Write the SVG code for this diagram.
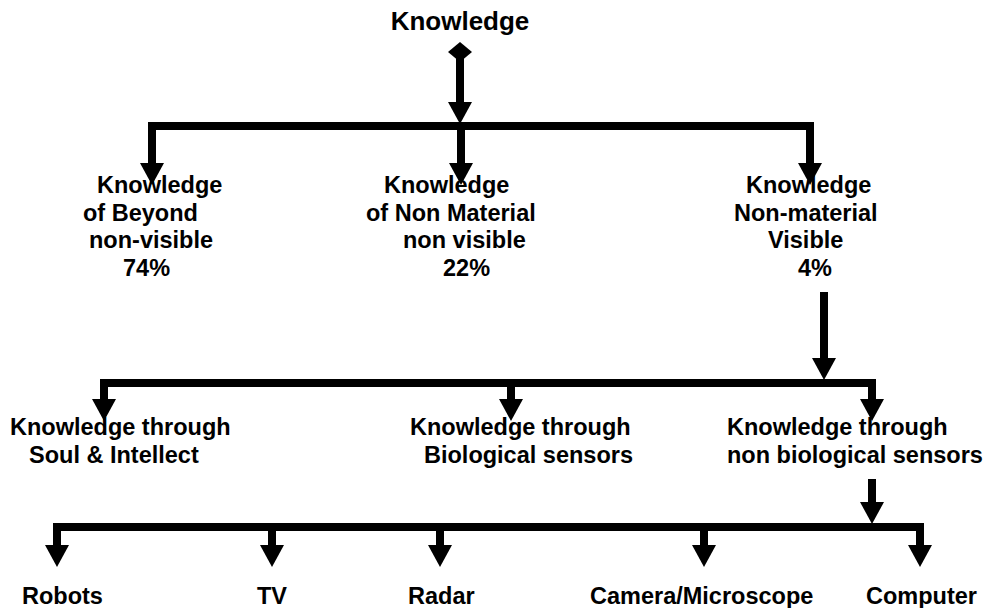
<svg xmlns="http://www.w3.org/2000/svg" width="984" height="608" viewBox="0 0 984 608">
<style>
text{font-family:"Liberation Sans",Arial,sans-serif;font-weight:bold;fill:#000;font-size:23.5px}
.top{font-size:26px}
.ln{stroke:#000;stroke-width:8;fill:none;stroke-linecap:butt}
.ar{stroke:#000;stroke-width:8;fill:none;marker-end:url(#ah)}
</style>
<defs>
<marker id="ah" markerUnits="userSpaceOnUse" markerWidth="22" markerHeight="24" viewBox="0 0 22 24" refX="0" refY="12" orient="auto">
<path d="M0,0 L22,12 L0,24 Z" fill="#000"/>
</marker>
</defs>
<rect width="984" height="608" fill="#fff"/>
<g id="connectors">
<polygon points="460,42 472,52 460,62 448,52" fill="#000"/>
<line class="ar" x1="460" y1="52" x2="460" y2="102"/>
<line class="ln" x1="148" y1="126" x2="814" y2="126"/>
<line class="ar" x1="152" y1="122" x2="152" y2="163"/>
<line class="ar" x1="461" y1="122" x2="461" y2="163"/>
<line class="ar" x1="810" y1="122" x2="810" y2="163"/>
<line class="ar" x1="824" y1="292" x2="824" y2="358"/>
<line class="ln" x1="100" y1="383" x2="876" y2="383"/>
<line class="ar" x1="104" y1="379" x2="104" y2="399"/>
<line class="ar" x1="511" y1="379" x2="511" y2="399"/>
<line class="ar" x1="872" y1="379" x2="872" y2="399"/>
<line class="ar" x1="872" y1="479" x2="872" y2="502"/>
<line class="ln" x1="53" y1="527" x2="924" y2="527"/>
<line class="ar" x1="57" y1="523" x2="57" y2="545"/>
<line class="ar" x1="272" y1="523" x2="272" y2="545"/>
<line class="ar" x1="440" y1="523" x2="440" y2="545"/>
<line class="ar" x1="704" y1="523" x2="704" y2="545"/>
<line class="ar" x1="920" y1="523" x2="920" y2="545"/>
</g>
<g id="knowledge"><text class="top" x="460" y="30" text-anchor="middle">Knowledge</text></g>
<g id="beyond">
<text x="97" y="193">Knowledge</text>
<text x="83" y="221">of Beyond</text>
<text x="89" y="248">non-visible</text>
<text x="123" y="276">74%</text>
</g>
<g id="nonmaterial-nonvisible">
<text x="384" y="193">Knowledge</text>
<text x="366" y="221">of Non Material</text>
<text x="403" y="248">non visible</text>
<text x="443" y="276">22%</text>
</g>
<g id="nonmaterial-visible">
<text x="746" y="193">Knowledge</text>
<text x="734" y="221">Non-material</text>
<text x="768" y="248">Visible</text>
<text x="798" y="276">4%</text>
</g>
<g id="soul">
<text x="10" y="435">Knowledge through</text>
<text x="29" y="463">Soul &amp; Intellect</text>
</g>
<g id="biological">
<text x="410" y="435">Knowledge through</text>
<text x="424" y="463">Biological sensors</text>
</g>
<g id="nonbiological">
<text x="727" y="435">Knowledge through</text>
<text x="727" y="463">non biological sensors</text>
</g>
<g id="robots"><text x="22" y="604">Robots</text></g>
<g id="tv"><text x="257" y="604">TV</text></g>
<g id="radar"><text x="408" y="604">Radar</text></g>
<g id="camera"><text x="590" y="604">Camera/Microscope</text></g>
<g id="computer"><text x="866" y="604">Computer</text></g>
</svg>
